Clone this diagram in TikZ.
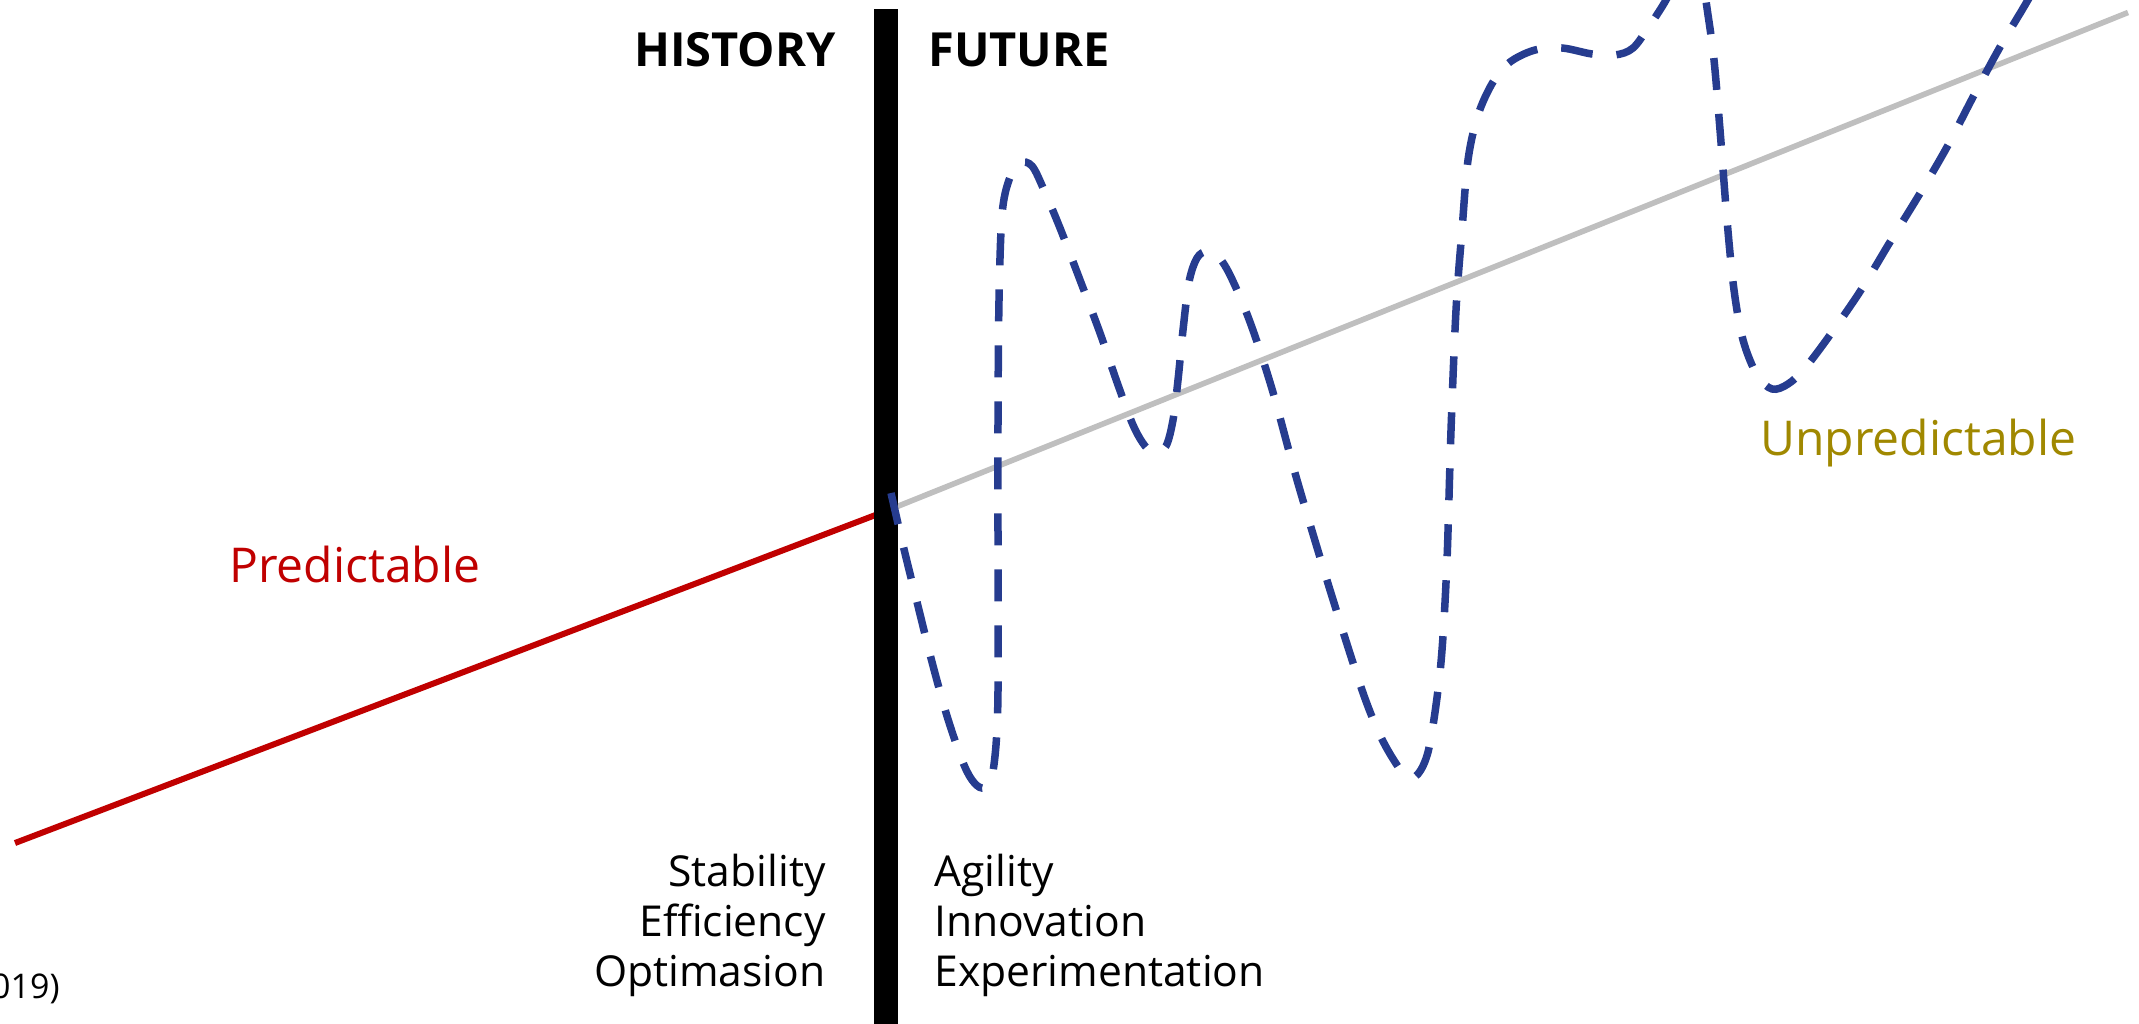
\documentclass[tikz,border=0pt]{standalone}
\usepackage{fontspec}
\setmainfont{Open Sans}
\usepackage{tikz}
\usetikzlibrary{positioning}
\definecolor{pastred}{HTML}{C00000}
\definecolor{trendgray}{HTML}{BFBFBF}
\definecolor{futureblue}{HTML}{263C8F}
\definecolor{unpredgold}{HTML}{A08800}
\tikzset{
  heading/.style={font=\fontsize{23.5}{28}\selectfont\bfseries, inner sep=0pt},
  trend/.style={font=\fontsize{24}{29}\selectfont, inner sep=0pt},
  keyword/.style={font=\fontsize{21.3}{25}\selectfont, inner sep=0pt, text height=16pt, text depth=8.75pt},
  source/.style={font=\fontsize{17}{20}\selectfont, inner sep=0pt}
}

\begin{document}
\begin{tikzpicture}[x=0.5pt, y=-0.5pt]
        \useasboundingbox (0,0) rectangle (2139,1023);
        \clip (0,0) rectangle (2139,1023);
        \coordinate (pastStart) at (15,843);
        \coordinate (now) at (886,511);
        \coordinate (futureEnd) at (2128,12.5);
        \draw[pastred, line width=3pt] (pastStart) -- (now);
        \draw[trendgray, line width=2.8pt] (now) -- (futureEnd);
        \fill (874,9) rectangle (898,1030);
        \draw[futureblue, line width=3.75pt, dash pattern=on 16pt off 12pt] plot[smooth, tension=0.55] coordinates {
            (891,493) (903,545) (917,602) (932,662) (947,716) (962,760) (972,780) (982,788) (991,780)
            (996,745) (998,690) (998,560) (998,420) (999,300) (1002,215) (1009,180) (1020,163) (1032,166)
            (1044,190) (1060,228) (1080,280) (1100,333) (1118,385) (1133,425) (1145,446) (1155,453)
            (1166,446) (1173,420) (1178,380) (1183,330) (1189,282) (1197,258) (1207,251) (1217,255)
            (1230,275) (1250,322) (1272,389) (1297,480) (1330,590) (1362,690) (1380,735) (1395,762)
            (1407,777) (1418,774) (1428,752) (1436,705) (1442,650) (1447,560) (1451,430) (1456,310)
            (1462,230) (1468,160) (1478,115) (1493,82) (1510,62) (1535,50) (1562,48) (1592,54) (1615,55)
            (1633,48) (1650,25) (1666,0) (1680,-28) (1692,-38) (1702,-20) (1708,15) (1714,60) (1720,130)
            (1727,220) (1734,290) (1743,340) (1757,375) (1772,389) (1788,384) (1805,368) (1830,335)
            (1861,290) (1890,242) (1919,195) (1947,147) (1973,97) (2000,47) (2025,5) (2045,-30)};

        \node[heading, anchor=base east] (history) at (836,66.5) {HISTORY};
        \node[heading, anchor=base west] (future) at (928,66.5) {FUTURE};
        \node[trend, text=pastred, anchor=base west] (predictable) at (229,582) {Predictable};
        \node[trend, text=unpredgold, anchor=base west] (unpredictable) at (1760,455) {Unpredictable};

        \node[keyword, anchor=base east] (stability) at (826,886) {Stability};
        \node[keyword] (efficiency) [below left=0pt and 0pt of stability.south east] {Efficiency};
        \node[keyword] (optimasion) [below left=0pt and 0pt of efficiency.south east] {Optimasion};
        \node[keyword, anchor=base west] (agility) at (934,886) {Agility};
        \node[keyword] (innovation) [below right=0pt and 0pt of agility.south west] {Innovation};
        \node[keyword] (experimentation) [below right=0pt and 0pt of innovation.south west] {Experimentation};

        \node[source, anchor=base east] (year) at (60,998) {019)};
    \end{tikzpicture}
\end{document}
